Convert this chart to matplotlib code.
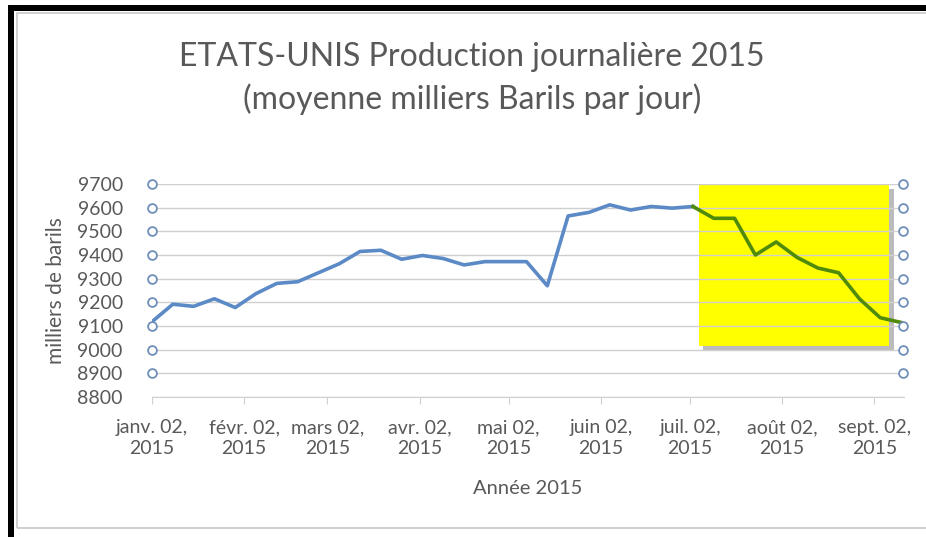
import numpy as np
import pandas as pd
import matplotlib
matplotlib.use('Agg')
import matplotlib.pyplot as plt
import matplotlib.dates as mdates
from matplotlib.patches import Rectangle

plt.rcParams['font.family'] = ['Lato', 'DejaVu Sans']

# weekly production (milliers de barils / jour)
weeks = pd.date_range('2015-01-02', periods=37, freq='7D')
production = [9118, 9192, 9183, 9215, 9178, 9237, 9280, 9287, 9325, 9363,
              9415, 9420, 9382, 9398, 9385, 9358, 9372, 9372, 9372, 9270,
              9565, 9580, 9612, 9590, 9605, 9598, 9605, 9555, 9555, 9400,
              9455, 9390, 9345, 9325, 9215, 9135, 9115]
split_idx = 26  # start of the highlighted decline (green)

tick_dates = pd.to_datetime(['2015-01-02', '2015-02-02', '2015-03-02', '2015-04-02',
                             '2015-05-02', '2015-06-02', '2015-07-02', '2015-08-02',
                             '2015-09-02'])
tick_labels = ['janv. 02,\n2015', 'févr. 02,\n2015', 'mars 02,\n2015', 'avr. 02,\n2015',
               'mai 02,\n2015', 'juin 02,\n2015', 'juil. 02,\n2015', 'août 02,\n2015',
               'sept. 02,\n2015']
y_ticks = list(range(8800, 9701, 100))
marker_levels = list(range(8900, 9701, 100))

grey = '#595959'
blue = '#5B8AC6'
green = '#4F8A0B'

fig = plt.figure(figsize=(9.26, 5.37), dpi=100)
ax = fig.add_axes([152 / 926, 1 - 397 / 537, 752 / 926, 213 / 537])

x0, x1 = pd.Timestamp('2015-01-02'), pd.Timestamp('2015-09-12')
ax.set_xlim(x0, x1)
ax.set_ylim(8800, 9700)

# highlighted zone with a drop shadow
bx0, bx1 = mdates.date2num(pd.Timestamp('2015-07-05')), mdates.date2num(pd.Timestamp('2015-09-07'))
ax.add_patch(Rectangle((bx0 + 1.5, 8995), bx1 - bx0, 9700 - 9015,
                       facecolor='#555555', alpha=0.4, edgecolor='none', zorder=1))
ax.add_patch(Rectangle((bx0, 9015), bx1 - bx0, 9700 - 9015,
                       facecolor='#FFFF00', edgecolor='none', zorder=1.5))

ax.set_yticks(y_ticks)
ax.grid(axis='y', color='#D0D0D0', lw=1.0, zorder=2)
ax.set_axisbelow(False)

ax.plot(weeks[:split_idx + 1], production[:split_idx + 1], color=blue, lw=2.6,
        solid_joinstyle='round', zorder=4)
ax.plot(weeks[split_idx:], production[split_idx:], color=green, lw=2.6,
        solid_joinstyle='round', zorder=4)

# hollow circle markers on both sides
ax.scatter([weeks[0]] * len(marker_levels), marker_levels, s=40, facecolor='white',
           edgecolor='#6E8FB8', lw=1.3, zorder=5, clip_on=False)
ax.scatter([x1 - pd.Timedelta(days=0.3)] * len(marker_levels), marker_levels, s=40,
           facecolor='white', edgecolor='#6E8FB8', lw=1.3, zorder=5, clip_on=False)

ax.set_xticks(tick_dates)
ax.set_xticklabels(tick_labels, color=grey, fontsize=14, linespacing=1.3)
ax.set_yticklabels([str(v) for v in y_ticks], color=grey, fontsize=14)
ax.tick_params(axis='y', length=0, pad=21)
ax.tick_params(axis='x', length=5, color='#D0D0D0', pad=11)
for s in ['top', 'right', 'left']:
    ax.spines[s].set_visible(False)
ax.spines['bottom'].set_color('#D0D0D0')

ax.set_ylabel('milliers de barils', color=grey, fontsize=15, labelpad=8)
ax.set_xlabel('Année 2015', color=grey, fontsize=14.5, labelpad=16)

fig.text(472 / 926, 1 - 57 / 537, 'ETATS-UNIS Production journalière 2015', ha='center',
         va='center', fontsize=23, color=grey)
fig.text(472 / 926, 1 - 99 / 537, '(moyenne milliers Barils par jour)', ha='center',
         va='center', fontsize=23, color=grey)

# screenshot frame
fig.patches.append(Rectangle((17 / 926, 1 - 528 / 537), 1, 515 / 537, transform=fig.transFigure,
                             facecolor='none', edgecolor='#C8C8C8', lw=1.2))
fig.patches.append(Rectangle((8 / 926, 0), 6 / 926, 1 - 5 / 537, transform=fig.transFigure,
                             facecolor='black', edgecolor='none'))
fig.patches.append(Rectangle((8 / 926, 1 - 11 / 537), 1, 6 / 537, transform=fig.transFigure,
                             facecolor='black', edgecolor='none'))

fig.savefig('out.png', dpi=100, facecolor='white')
